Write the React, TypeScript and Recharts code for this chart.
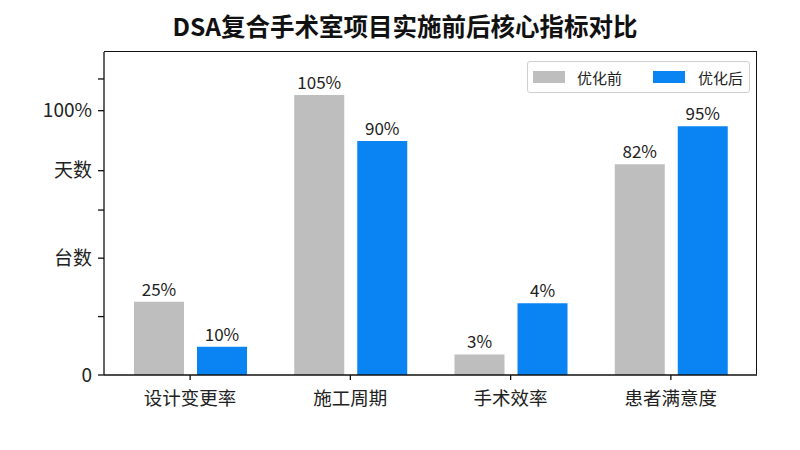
import React from 'react';
import { BarChart, Bar, XAxis, YAxis, Legend, LabelList } from 'recharts';

const categories = ['设计变更率', '施工周期', '手术效率', '患者满意度'];
const beforeValues = [27.7, 105.9, 7.8, 79.7];
const afterValues = [10.7, 88.5, 27.1, 94.1];
const beforeLabels = ['25%', '105%', '3%', '82%'];
const afterLabels = ['10%', '90%', '4%', '95%'];
const yTicks = [0, 22.1, 44.2, 62.4, 77.3, 100, 112];
const yTickLabels = ['0', '', '台数', '', '天数', '100%', ''];
const seriesNames = ['优化前', '优化后'];
const title = 'DSA复合手术室项目实施前后核心指标对比';

const GRAY = '#bebebe';
const BLUE = '#0a84f2';
const FONT = '"Noto Sans CJK SC", "Noto Sans", sans-serif';

const CHART_W = 800;
const CHART_H = 450;
const MARGIN = { top: 52, right: 43, bottom: 45, left: 0 };
const Y_AXIS_W = 104;
const X_AXIS_H = 30;

const data = categories.map((c, i) => ({
  name: c,
  before: beforeValues[i],
  after: afterValues[i],
  beforeLabel: beforeLabels[i],
  afterLabel: afterLabels[i],
}));

function LegendBox() {
  const text: React.CSSProperties = {
    position: 'absolute',
    top: 0,
    height: 31,
    lineHeight: '31px',
    fontSize: 15,
    color: '#222',
    fontFamily: FONT,
    whiteSpace: 'nowrap',
  };
  return (
    <div
      style={{
        boxSizing: 'border-box',
        position: 'relative',
        width: 223,
        height: 32,
        border: '1px solid #cfcfcf',
        borderRadius: 3,
        background: '#fff',
      }}
    >
      <span style={{ position: 'absolute', left: 5, top: 9, width: 32, height: 12, background: GRAY }} />
      <span style={{ ...text, left: 49 }}>{seriesNames[0]}</span>
      <span style={{ position: 'absolute', left: 125, top: 9, width: 32, height: 12, background: BLUE }} />
      <span style={{ ...text, left: 170 }}>{seriesNames[1]}</span>
    </div>
  );
}

export default function App() {
  const plotLeft = MARGIN.left + Y_AXIS_W;
  const plotTop = MARGIN.top;
  const plotW = CHART_W - MARGIN.right - plotLeft;
  const plotH = CHART_H - MARGIN.bottom - X_AXIS_H - plotTop;
  return (
    <div style={{ position: 'absolute', left: 0, top: 0, width: CHART_W, height: CHART_H, background: '#fff' }}>
      <div
        style={{
          position: 'absolute',
          left: 10,
          width: 790,
          top: 9,
          height: 34,
          lineHeight: '34px',
          textAlign: 'center',
          fontFamily: FONT,
          fontWeight: 700,
          fontSize: 24.5,
          color: '#111',
        }}
      >
        {title}
      </div>
      <BarChart
        width={CHART_W}
        height={CHART_H}
        data={data}
        margin={MARGIN}
        barSize={50}
        barGap={13}
      >
        <XAxis
          dataKey="name"
          height={X_AXIS_H}
          padding={{ left: 6, right: 6 }}
          tickSize={5}
          tickMargin={12}
          axisLine={{ stroke: '#111', strokeWidth: 1.3 }}
          tickLine={{ stroke: '#111', strokeWidth: 1.3 }}
          tick={{ fontSize: 18.5, fill: '#222', fontFamily: FONT }}
          interval={0}
        />
        <YAxis
          width={Y_AXIS_W}
          domain={[0, 122.2]}
          ticks={yTicks}
          interval={0}
          tickSize={6}
          tickMargin={6}
          tickFormatter={(v: number, i: number) => yTickLabels[i] ?? ''}
          axisLine={{ stroke: '#111', strokeWidth: 1.3 }}
          tickLine={{ stroke: '#111', strokeWidth: 1.3 }}
          tick={{ fontSize: 19, fill: '#222', fontFamily: FONT }}
          allowDataOverflow
        />
        <Legend
          layout="horizontal"
          verticalAlign="middle"
          align="center"
          content={() => <LegendBox />}
          wrapperStyle={{ position: 'absolute', left: 527, top: 61, width: 223, height: 32 }}
        />
        <Bar dataKey="before" name={seriesNames[0]} fill={GRAY} isAnimationActive={false}>
          <LabelList
            dataKey="beforeLabel"
            position="top"
            offset={6}
            style={{ fontSize: 17, fill: '#222', fontFamily: FONT }}
          />
        </Bar>
        <Bar dataKey="after" name={seriesNames[1]} fill={BLUE} isAnimationActive={false}>
          <LabelList
            dataKey="afterLabel"
            position="top"
            offset={6}
            style={{ fontSize: 17, fill: '#222', fontFamily: FONT }}
          />
        </Bar>
      </BarChart>
      <div
        style={{
          position: 'absolute',
          left: plotLeft,
          top: plotTop - 0.65,
          width: plotW,
          height: plotH,
          boxSizing: 'border-box',
          borderTop: '1.3px solid #111',
          borderRight: '1.3px solid #111',
          pointerEvents: 'none',
        }}
      />
    </div>
  );
}
